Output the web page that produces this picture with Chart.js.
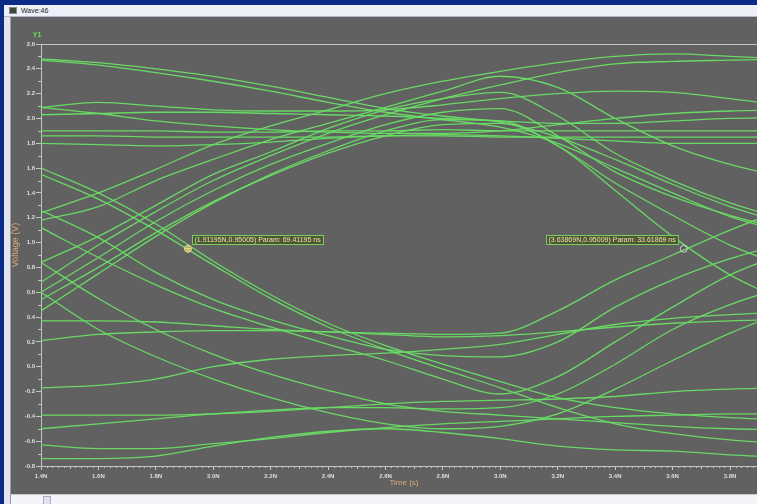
<!DOCTYPE html>
<html>
<head>
<meta charset="utf-8">
<script src="https://cdn.jsdelivr.net/npm/chart.js@4.4.1/dist/chart.umd.min.js"></script>
<style>
  html, body { margin: 0; padding: 0; }
  body { width: 757px; height: 504px; background: #0b2b88; position: relative; overflow: hidden; font-family: "Liberation Sans", sans-serif; }
  #titlebar { position: absolute; left: 4px; top: 5px; width: 753px; height: 11px; background: #eef0f9; border-bottom: 1px solid #b4b8c8; color: #222; font-size: 7px; }
  #icon { position: absolute; left: 5px; top: 2px; width: 8px; height: 7px; background: #3c4a3c; border: 1px solid #889; box-sizing: border-box; }
  #title { position: absolute; left: 17px; top: 1px; line-height: 9px; }
  #leftstrip { position: absolute; left: 4px; top: 17px; width: 6px; height: 487px; background: #e3e5ee; border-right: 1px solid #9a9cab; }
  #plot { position: absolute; left: 11px; top: 17px; background: #616161; }
  #bottom { position: absolute; left: 11px; top: 494px; width: 746px; height: 10px; background: #f4f4f8; border-top: 1px solid #c8c9d3; }
  #thumb { position: absolute; left: 43px; top: 496px; width: 6px; height: 8px; background: #dfe2f0; border: 1px solid #a9acc0; }
</style>
</head>
<body>
<div id="titlebar"><div id="icon"></div><div id="title">Wave:46</div></div>
<div id="leftstrip"></div>
<canvas id="plot" width="746" height="477"></canvas>
<div id="bottom"></div>
<div id="thumb"></div>
<script>
// Sample times (ns) shared by every trace
const timeNs = [1.4, 1.6, 1.8, 2.0, 2.2, 2.4, 2.6, 2.8, 3.0, 3.2, 3.4, 3.6, 3.8, 4.0];

// Tick positions
const xTicks = [1.4, 1.6, 1.8, 2.0, 2.2, 2.4, 2.6, 2.8, 3.0, 3.2, 3.4, 3.6, 3.8];
const yTicks = [-0.8, -0.6, -0.4, -0.2, 0.0, 0.2, 0.4, 0.6, 0.8, 1.0, 1.2, 1.4, 1.6, 1.8, 2.0, 2.2, 2.4, 2.6];

// Voltage traces (V), one value per sample time
const highFlat1 = [1.90, 1.90, 1.90, 1.89, 1.89, 1.90, 1.90, 1.91, 1.90, 1.90, 1.90, 1.90, 1.90, 1.90];
const highFlat2 = [1.86, 1.86, 1.85, 1.85, 1.85, 1.85, 1.86, 1.86, 1.85, 1.85, 1.85, 1.85, 1.85, 1.85];
const highFlat3 = [1.80, 1.79, 1.78, 1.79, 1.81, 1.84, 1.86, 1.87, 1.86, 1.84, 1.82, 1.80, 1.80, 1.80];
const highBump = [2.09, 2.13, 2.10, 2.07, 2.06, 2.06, 2.07, 2.11, 2.16, 2.20, 2.22, 2.21, 2.16, 2.10];
const highDip = [2.09, 2.04, 1.98, 1.94, 1.91, 1.89, 1.88, 1.88, 1.90, 1.95, 2.00, 2.04, 2.06, 2.07];
const highWave = [2.03, 2.04, 2.05, 2.05, 2.04, 2.03, 2.02, 2.00, 1.98, 1.96, 1.96, 1.98, 2.00, 2.01];
const topFall1 = [2.48, 2.45, 2.40, 2.34, 2.26, 2.17, 2.08, 2.02, 1.97, 1.85, 1.67, 1.47, 1.29, 1.15];
const topFall2 = [2.47, 2.43, 2.37, 2.30, 2.22, 2.13, 2.05, 1.99, 1.93, 1.80, 1.60, 1.40, 1.21, 1.08];
const riseHigh1 = [1.24, 1.40, 1.59, 1.79, 1.94, 2.07, 2.20, 2.30, 2.38, 2.45, 2.50, 2.52, 2.50, 2.48];
const riseHigh2 = [0.68, 0.98, 1.25, 1.50, 1.70, 1.88, 2.03, 2.16, 2.27, 2.37, 2.44, 2.46, 2.47, 2.48];
const pulse1 = [1.18, 1.29, 1.50, 1.67, 1.83, 1.96, 2.09, 2.22, 2.34, 2.25, 2.00, 1.78, 1.63, 1.52];
const pulse2 = [0.84, 1.05, 1.30, 1.55, 1.73, 1.92, 2.07, 2.16, 2.21, 2.02, 1.72, 1.50, 1.32, 1.18];
const pulse3 = [0.60, 0.88, 1.17, 1.42, 1.63, 1.80, 1.95, 2.05, 2.08, 1.86, 1.57, 1.37, 1.22, 1.10];
const pulse4 = [0.45, 0.75, 1.05, 1.32, 1.55, 1.74, 1.90, 1.99, 1.98, 1.78, 1.48, 1.22, 0.98, 0.80];
const pulse5 = [0.54, 0.80, 1.08, 1.33, 1.54, 1.72, 1.86, 1.95, 1.96, 1.78, 1.42, 1.05, 0.74, 0.52];
const fallLow1 = [1.60, 1.40, 1.15, 0.85, 0.58, 0.35, 0.17, 0.02, -0.12, -0.25, -0.33, -0.38, -0.41, -0.43];
const fallLow2 = [1.55, 1.35, 1.10, 0.82, 0.55, 0.32, 0.14, -0.02, -0.17, -0.33, -0.46, -0.54, -0.59, -0.62];
const fallLow3 = [0.84, 0.55, 0.30, 0.10, -0.06, -0.19, -0.30, -0.36, -0.39, -0.42, -0.45, -0.48, -0.50, -0.51];
const dip1 = [0.60, 0.30, 0.08, -0.10, -0.25, -0.37, -0.46, -0.50, -0.48, -0.38, -0.18, 0.05, 0.27, 0.45];
const dip2 = [1.12, 0.88, 0.66, 0.47, 0.32, 0.18, 0.05, -0.10, -0.22, -0.08, 0.20, 0.48, 0.74, 0.92];
const dip3 = [1.26, 1.04, 0.76, 0.54, 0.38, 0.25, 0.14, 0.09, 0.08, 0.20, 0.48, 0.70, 0.87, 1.00];
const lowRise1 = [0.37, 0.37, 0.36, 0.33, 0.30, 0.28, 0.27, 0.26, 0.27, 0.45, 0.70, 0.90, 1.10, 1.28];
const lowFlat1 = [0.21, 0.26, 0.28, 0.29, 0.29, 0.28, 0.26, 0.24, 0.25, 0.28, 0.32, 0.35, 0.37, 0.38];
const lowFlat2 = [-0.17, -0.15, -0.10, 0.00, 0.06, 0.09, 0.11, 0.14, 0.18, 0.26, 0.34, 0.39, 0.42, 0.44];
const lowFlat3 = [-0.39, -0.39, -0.39, -0.38, -0.36, -0.33, -0.30, -0.28, -0.27, -0.26, -0.24, -0.20, -0.18, -0.17];
const lowRise2 = [-0.50, -0.46, -0.42, -0.38, -0.35, -0.33, -0.33, -0.34, -0.33, -0.22, 0.02, 0.30, 0.50, 0.65];
const lowFlat4 = [-0.63, -0.66, -0.66, -0.62, -0.58, -0.53, -0.49, -0.46, -0.44, -0.42, -0.40, -0.39, -0.38, -0.38];
const lowFlat5 = [-0.74, -0.74, -0.72, -0.64, -0.57, -0.52, -0.50, -0.53, -0.58, -0.64, -0.67, -0.68, -0.71, -0.73];

const traces = [highFlat1, highFlat2, highFlat3, highBump, highDip, highWave, topFall1, topFall2,
  riseHigh1, riseHigh2, pulse1, pulse2, pulse3, pulse4, pulse5, fallLow1, fallLow2, fallLow3,
  dip1, dip2, dip3, lowRise1, lowFlat1, lowFlat2, lowFlat3, lowRise2, lowFlat4, lowFlat5];

// Cursor markers: time (ns), voltage (V), parameter (ns)
const markerTimes = [1.91195, 3.63869];
const markerVolts = [0.95005, 0.95009];
const markerParams = [69.41195, 33.61869];

const GREEN = 'rgba(105, 222, 100, 0.95)';
const AXIS = '#c4c4c4';
const TAN = '#d9a877';

const datasets = traces.map(tr => ({
  data: timeNs.map((t, i) => ({ x: t, y: tr[i] })),
  borderColor: GREEN,
  borderWidth: 1.3,
  pointRadius: 0,
  cubicInterpolationMode: 'monotone',
  fill: false
}));
datasets.push({
  type: 'scatter',
  data: markerTimes.map((t, i) => ({ x: t, y: markerVolts[i] })),
  pointRadius: 0
});

function fmt(v) { return (Math.abs(v) < 1e-9 ? 0 : v).toFixed(1); }

const decor = {
  id: 'decor',
  afterDraw(chart) {
    const { ctx, chartArea: a, scales: { x, y } } = chart;
    ctx.save();
    // top border line at 2.6 V
    ctx.strokeStyle = AXIS;
    ctx.lineWidth = 1;
    ctx.beginPath();
    ctx.moveTo(a.left, Math.round(a.top) + 0.5);
    ctx.lineTo(a.right, Math.round(a.top) + 0.5);
    ctx.stroke();
    // minor ticks on the voltage axis
    ctx.beginPath();
    for (let k = -8; k <= 26; k++) {
      if (k % 2 === 0) continue;
      const py = Math.round(y.getPixelForValue(k / 10)) + 0.5;
      ctx.moveTo(a.left - 3, py);
      ctx.lineTo(a.left, py);
    }
    // minor ticks on the time axis
    for (let k = 70; k <= 194; k++) {
      if (k % 10 === 0) continue;
      const px = Math.round(x.getPixelForValue(k / 50)) + 0.5;
      const len = (k % 5 === 0) ? 3 : 2;
      ctx.moveTo(px, a.bottom);
      ctx.lineTo(px, a.bottom + len);
    }
    ctx.stroke();

    // axis captions
    ctx.fillStyle = '#5fe05a';
    ctx.font = 'bold 7px "Liberation Sans"';
    ctx.textAlign = 'center';
    ctx.textBaseline = 'middle';
    ctx.fillText('Y1', a.left - 4, a.top - 9);

    ctx.fillStyle = TAN;
    ctx.font = '8px "Liberation Sans"';
    ctx.fillText('Time (s)', 393, 466);
    ctx.save();
    ctx.translate(5, 228);
    ctx.rotate(-Math.PI / 2);
    ctx.font = '9px "Liberation Sans"';
    ctx.fillText('Voltage (V)', 0, 0);
    ctx.restore();

    // cursor markers with their readouts
    const meta = chart.getDatasetMeta(datasets.length - 1);
    ctx.font = '7px "Liberation Sans"';
    ctx.textAlign = 'left';
    meta.data.forEach((pt, i) => {
      const px = pt.x, py = pt.y;
      const label = '(' + markerTimes[i].toFixed(5) + 'N,' + markerVolts[i].toFixed(5) + ') Param: ' + markerParams[i].toFixed(5) + ' ns';
      const w = Math.ceil(ctx.measureText(label).width) + 4;
      const h = 9;
      const bx = Math.round(i === 0 ? px + 4 : px - 6 - w);
      const by = Math.round(py) - 14;
      ctx.fillStyle = 'rgba(72, 84, 52, 0.9)';
      ctx.fillRect(bx + 0.5, by + 0.5, w, h);
      ctx.strokeStyle = '#78d05a';
      ctx.lineWidth = 1;
      ctx.strokeRect(bx + 0.5, by + 0.5, w, h);
      ctx.fillStyle = '#f2e49a';
      ctx.fillText(label, bx + 2.5, by + 5);
      // marker glyph
      ctx.beginPath();
      ctx.arc(px, py, 3.5, 0, Math.PI * 2);
      if (i === 0) {
        ctx.fillStyle = 'rgba(230, 210, 120, 0.45)';
        ctx.fill();
        ctx.strokeStyle = '#f0dc8c';
        ctx.stroke();
        ctx.beginPath();
        ctx.moveTo(px - 3.5, py); ctx.lineTo(px + 3.5, py);
        ctx.moveTo(px, py - 3.5); ctx.lineTo(px, py + 3.5);
        ctx.stroke();
      } else {
        ctx.strokeStyle = '#cfcfcf';
        ctx.stroke();
      }
    });
    ctx.restore();
  }
};

new Chart(document.getElementById('plot'), {
  type: 'line',
  data: { datasets },
  options: {
    responsive: false,
    animation: false,
    devicePixelRatio: 1,
    layout: { padding: { top: 27, left: 0, right: 0, bottom: 0 } },
    plugins: { legend: { display: false }, tooltip: { enabled: false } },
    scales: {
      x: {
        type: 'linear',
        min: 1.4,
        max: 3.894,
        afterFit(s) { s.height = 28; },
        afterBuildTicks(s) { s.ticks = xTicks.map(v => ({ value: v })); },
        ticks: {
          callback: v => fmt(v) + 'N',
          color: '#dedede',
          font: { size: 6, family: 'Liberation Sans', weight: 'bold' },
          padding: 3,
          maxRotation: 0,
          autoSkip: false
        },
        grid: { drawOnChartArea: false, color: AXIS, tickLength: 4 },
        border: { color: AXIS }
      },
      y: {
        min: -0.8,
        max: 2.6,
        afterFit(s) { s.width = 30; },
        afterBuildTicks(s) { s.ticks = yTicks.map(v => ({ value: v })); },
        ticks: {
          callback: v => fmt(v),
          color: '#dedede',
          font: { size: 6, family: 'Liberation Sans', weight: 'bold' },
          padding: 1,
          autoSkip: false
        },
        grid: { drawOnChartArea: false, color: AXIS, tickLength: 5 },
        border: { color: AXIS }
      }
    }
  },
  plugins: [decor]
});
</script>
</body>
</html>
